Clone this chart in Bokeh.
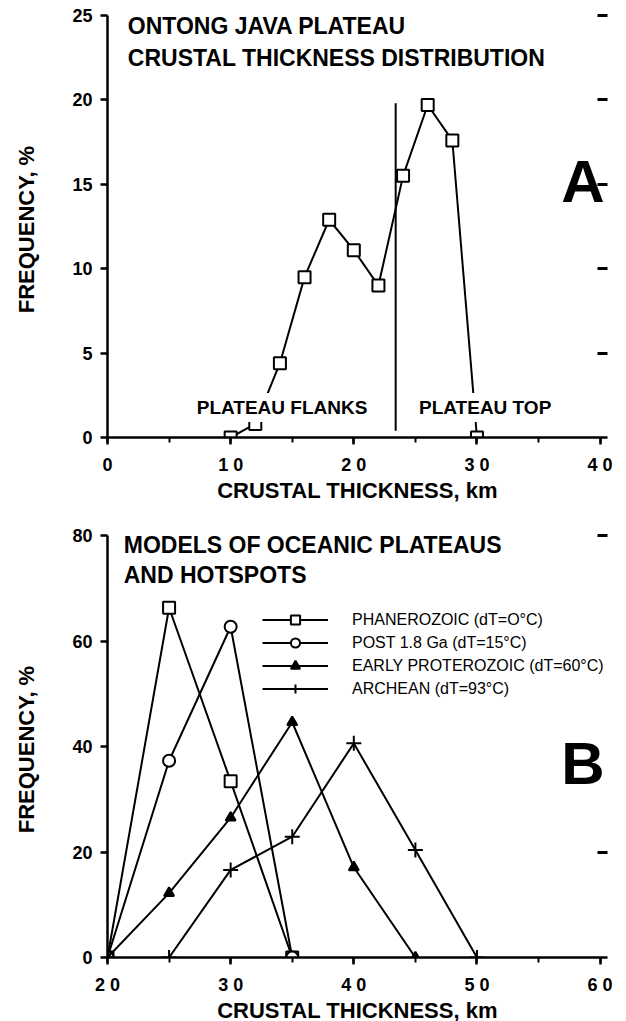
from bokeh.plotting import figure
from bokeh.models import (Range1d, LinearAxis, SingleIntervalTicker, FixedTicker,
                          Label, Legend, LegendItem)
from bokeh.layouts import column
from bokeh.embed import file_html
from bokeh.resources import INLINE

FONT = "Liberation Sans"

# ---------------- Panel A data ----------------
a_thickness = [10, 12, 14, 16, 18, 20, 22, 24, 26, 28, 30]
a_frequency = [0, 0.8, 4.4, 9.5, 12.9, 11.1, 9.0, 15.5, 19.7, 17.6, 0]
a_divider_x = [23.4, 23.4]
a_divider_y = [0.4, 19.8]
a_xticks = [0, 10, 20, 30, 40]
a_xtick_labels = ["0", "1 0", "2 0", "3 0", "4 0"]
a_right_ticks = [5, 10, 15, 20, 25]

# ---------------- Panel B data ----------------
b_phan_x = [20, 25, 30, 35]
b_phan_y = [0, 66.3, 33.4, 0]
b_post_x = [20, 25, 30, 35]
b_post_y = [0, 37.3, 62.7, 0]
b_early_x = [20, 25, 30, 35, 40, 45]
b_early_y = [0, 12.2, 26.5, 44.6, 17.1, 0]
b_arch_x = [25, 30, 35, 40, 45, 50]
b_arch_y = [0, 16.6, 22.9, 40.6, 20.4, 0]
b_names = ["PHANEROZOIC (dT=O°C)", "POST 1.8 Ga (dT=15°C)",
           "EARLY PROTEROZOIC (dT=60°C)", "ARCHEAN (dT=93°C)"]
b_xticks = [20, 30, 40, 50, 60]
b_xtick_labels = ["2 0", "3 0", "4 0", "5 0", "6 0"]
b_right_ticks = [20, 80]


def base_fig(xr, yr, top, bottom):
    p = figure(frame_width=500, frame_height=422,
               x_range=Range1d(*xr), y_range=Range1d(*yr),
               output_backend="svg", toolbar_location=None,
               min_border_left=107, min_border_right=19,
               min_border_top=top, min_border_bottom=bottom,
               background_fill_color="white", border_fill_color="white")
    p.outline_line_color = None
    p.grid.visible = False
    return p


def style_axes(p, xticks, xlabels, ystep, right_ticks):
    xa = p.xaxis[0]
    xa.ticker = SingleIntervalTicker(interval=10, num_minor_ticks=2)
    xa.major_label_overrides = {t: l for t, l in zip(xticks, xlabels)}
    xa.axis_label = "CRUSTAL THICKNESS, km"
    ya = p.yaxis[0]
    ya.ticker = SingleIntervalTicker(interval=ystep, num_minor_ticks=0)
    ya.axis_label = "FREQUENCY,  %"
    for ax in (xa, ya):
        ax.axis_line_width = 2.5
        ax.axis_line_color = "black"
        ax.major_tick_line_width = 2.5
        ax.major_tick_in = 0
        ax.major_tick_out = 7
        ax.minor_tick_line_width = 2
        ax.minor_tick_in = 0
        ax.minor_tick_out = 5
        ax.major_label_text_font = FONT
        ax.major_label_text_font_style = "bold"
        ax.major_label_text_font_size = "18px"
        ax.major_label_text_color = "black"
        ax.axis_label_text_font = FONT
        ax.axis_label_text_font_style = "bold"
        ax.axis_label_text_font_size = "22px"
        ax.axis_label_text_color = "black"
    xa.major_label_standoff = 10
    xa.axis_label_standoff = 0
    ya.major_label_standoff = 8
    ya.axis_label_standoff = 30
    ya.minor_tick_line_color = None
    ra = LinearAxis(ticker=FixedTicker(ticks=right_ticks), axis_line_color=None,
                    major_tick_in=10, major_tick_out=0, major_tick_line_width=3,
                    minor_tick_line_color=None, major_label_standoff=0,
                    major_label_overrides={t: "" for t in right_ticks},
                    major_label_text_color=None)
    p.add_layout(ra, "right")


def label(p, x, y, text, size, style="bold", align="left", baseline="middle", bg=None):
    lb = Label(x=x, y=y, text=text, text_font=FONT, text_font_size=size,
               text_font_style=style, text_color="black", text_align=align,
               text_baseline=baseline)
    if bg:
        lb.background_fill_color = bg
        lb.padding = 4
    p.add_layout(lb)


# ---------------- Panel A ----------------
pa = base_fig((0, 40.6), (0, 25), 15, 88)
style_axes(pa, a_xticks, a_xtick_labels, 5, a_right_ticks)
pa.line(a_divider_x, a_divider_y, line_color="black", line_width=2)
pa.line(a_thickness, a_frequency, line_color="black", line_width=2)
pa.scatter(a_thickness, a_frequency, marker="square", size=12, fill_color="white",
           line_color="black", line_width=2)
label(pa, 1.65, 24.35, "ONTONG JAVA PLATEAU", "23px")
label(pa, 1.65, 22.51, "CRUSTAL THICKNESS DISTRIBUTION", "23px")
label(pa, 6.92, 1.78, "PLATEAU FLANKS", "19px", bg="white")
label(pa, 24.97, 1.78, "PLATEAU TOP", "19px", bg="white")
label(pa, 38.6, 15.15, "A", "60px", align="center")

# ---------------- Panel B ----------------
pb = base_fig((20, 60.6), (0, 80), 10, 64)
style_axes(pb, b_xticks, b_xtick_labels, 20, b_right_ticks)

items = []
specs = [
    (b_phan_x, b_phan_y, dict(marker="square", size=12, fill_color="white")),
    (b_post_x, b_post_y, dict(marker="circle", size=12, fill_color="white")),
    (b_early_x, b_early_y, dict(marker="triangle", size=10, fill_color="black")),
    (b_arch_x, b_arch_y, dict(marker="cross", size=15, fill_color="black")),
]
for (xs, ys, mk), name in zip(specs, b_names):
    lr = pb.line(xs, ys, line_color="black", line_width=2)
    sr = pb.scatter(xs, ys, line_color="black", line_width=2, **mk)
    items.append(LegendItem(label=name, renderers=[lr, sr]))

legend = Legend(items=items, location=(155, 257), padding=0, margin=0, spacing=0,
                glyph_width=66, glyph_height=23, label_height=23, label_standoff=24,
                label_text_font=FONT, label_text_font_size="16px",
                label_text_color="black", background_fill_alpha=0,
                border_line_color=None)
pb.add_layout(legend)

label(pb, 21.32, 78.2, "MODELS OF OCEANIC PLATEAUS", "23px")
label(pb, 21.32, 72.5, "AND HOTSPOTS", "23px")
label(pb, 58.6, 36.7, "B", "60px", align="center")

layout = column(pa, pb, spacing=0)
open("out.html", "w").write(file_html(layout, INLINE))
